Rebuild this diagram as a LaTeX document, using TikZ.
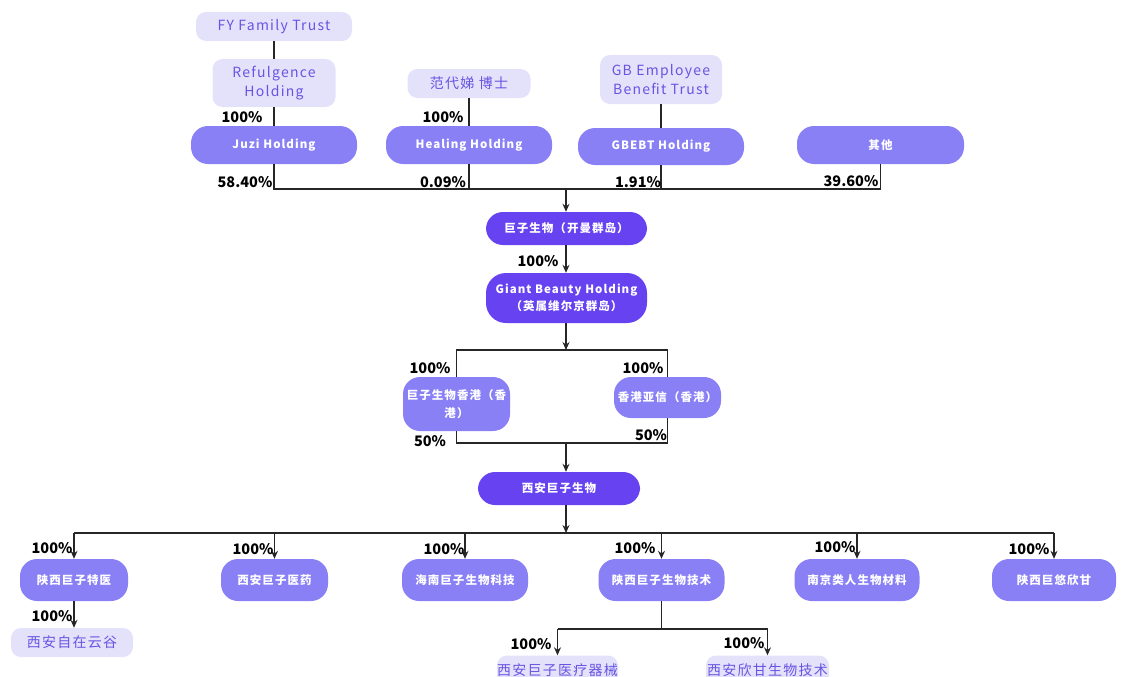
\documentclass[tikz,border=0pt]{standalone}
\usepackage{fontspec}
\setmainfont{Noto Sans CJK SC}
\newfontfamily\spacedfont[LetterSpace=9]{Noto Sans CJK SC}
\usetikzlibrary{arrows.meta}

\definecolor{lightbox}{HTML}{E4E2FB}
\definecolor{lighttext}{HTML}{6655E2}
\definecolor{midbox}{HTML}{8A80F6}
\definecolor{darkbox}{HTML}{6642F0}

\begin{document}
\begin{tikzpicture}
    [
      x=1pt, y=-1pt,
      every node/.style={inner sep=0pt},
      light/.style={fill=lightbox, text=lighttext, rounded corners=10pt, align=center,
        font=\fontsize{14}{19}\spacedfont},
      mid/.style={fill=midbox, text=white, rounded corners=17pt, align=center,
        font=\fontsize{11.5}{17}\spacedfont\bfseries},
      dark/.style={fill=darkbox, text=white, rounded corners=17pt, align=center,
        font=\fontsize{11.5}{17}\spacedfont\bfseries},
      pct/.style={font=\fontsize{14.5}{16}\selectfont\bfseries, text=black},
      link/.style={draw=black!85, line width=1.3pt},
      arr/.style={link, -{Stealth[length=8pt,width=7pt]}},
    ]

    \useasboundingbox (0,0) rectangle (1122,677);

    % top owners
    \node [light, minimum width=156, minimum height=29] (fy) at (274,26.5) {FY Family Trust};
    \node [light, minimum width=123, minimum height=48] (refulgence) at (274,83) {Refulgence\\Holding};
    \node [light, minimum width=123, minimum height=29] (fan) at (469,83.5) {范代娣 博士};
    \node [light, minimum width=122, minimum height=49] (gbtrust) at (661,79.5) {GB Employee\\Benefit Trust};

    \node [mid, minimum width=166, minimum height=38] (juzi) at (274,145) {Juzi Holding};
    \node [mid, minimum width=166, minimum height=38] (healing) at (469,145) {Healing Holding};
    \node [mid, minimum width=166, minimum height=37] (gbebt) at (661,146.5) {GBEBT Holding};
    \node [mid, minimum width=167, minimum height=38] (qita) at (880.5,145) {其他};

    % holding chain
    \node [dark, minimum width=161, minimum height=33] (kaiman) at (566.5,228.5) {巨子生物（开曼群岛）};
    \node [dark, minimum width=161, minimum height=50, rounded corners=20pt] (giant) at (566.5,298)
      {Giant Beauty Holding\\（英属维尔京群岛）};
    \node [mid, minimum width=107, minimum height=54, font=\fontsize{11.5}{18}\spacedfont\bfseries]
      (hkjuzi) at (456.5,404) {巨子生物香港（香\\港）};
    \node [mid, minimum width=107, minimum height=41] (hkyaxin) at (667.5,397.5) {香港亚信（香港）};
    \node [dark, minimum width=162, minimum height=33] (xian) at (559,488.5) {西安巨子生物};

    % subsidiaries
    \node [mid, minimum width=108, minimum height=42] (texi) at (74,580) {陕西巨子特医};
    \node [mid, minimum width=107, minimum height=42] (yiyao) at (274.5,580) {西安巨子医药};
    \node [mid, minimum width=126, minimum height=42] (hainan) at (465,580) {海南巨子生物科技};
    \node [mid, minimum width=126, minimum height=42] (jishu) at (661.5,580) {陕西巨子生物技术};
    \node [mid, minimum width=125, minimum height=42] (nanjing) at (857,580) {南京类人生物材料};
    \node [mid, minimum width=124, minimum height=42] (youxin) at (1054,580) {陕西巨悠欣甘};

    \node [light, minimum width=122, minimum height=29] (yungu) at (72,642.5) {西安自在云谷};
    \node [light, minimum width=121, minimum height=30] (qixie) at (557.5,670.5) {西安巨子医疗器械};
    \node [light, minimum width=123, minimum height=30] (xingan) at (767.5,670.5) {西安欣甘生物技术};

    % junctions
    \coordinate (bartop) at (566,189);
    \coordinate (barhk) at (566,350);
    \coordinate (barmid) at (566,443);
    \coordinate (barsub) at (566,533);
    \coordinate (barjishu) at (661.5,629);

    % connectors
    \draw [link] (fy) -- (refulgence);
    \draw [link] (refulgence) -- (juzi);
    \draw [link] (fan) -- (healing);
    \draw [link] (gbtrust) -- (gbebt);

    \draw [link] (juzi.south) |- (bartop) -| (qita.south);
    \draw [link] (healing.south) -- (healing.south |- bartop);
    \draw [link] (gbebt.south) -- (gbebt.south |- bartop);
    \draw [arr] (bartop) -- (bartop |- kaiman.north);

    \draw [arr] (kaiman.south -| bartop) -- (giant.north -| bartop);
    \draw [arr] (giant.south -| barhk) -- (barhk);
    \draw [link] (hkjuzi.north) |- (barhk) -| (hkyaxin.north);
    \draw [link] (hkjuzi.south) |- (barmid) -| (hkyaxin.south);
    \draw [arr] (barmid) -- (barmid |- xian.north);

    \draw [arr] (barsub |- xian.south) -- (barsub);
    \draw [link] (texi.north |- barsub) -- (youxin.north |- barsub);
    \foreach \sub in {texi,yiyao,hainan,jishu,nanjing,youxin}
      \draw [arr] (\sub.north |- barsub) -- (\sub.north);

    \draw [arr] (texi.south) -- (texi.south |- yungu.north);

    \draw [link] (jishu.south) -- (barjishu);
    \draw [link] (qixie.north |- barjishu) -- (xingan.north |- barjishu);
    \draw [arr] (qixie.north |- barjishu) -- (qixie.north);
    \draw [arr] (xingan.north |- barjishu) -- (xingan.north);

    % shares
    \node [pct] (p-juzi-in) at (242,117) {100\%};
    \node [pct] (p-heal-in) at (443,117) {100\%};
    \node [pct] (p-juzi) at (245,182) {58.40\%};
    \node [pct] (p-heal) at (443,182) {0.09\%};
    \node [pct] (p-gbebt) at (638,182) {1.91\%};
    \node [pct] (p-qita) at (851,181) {39.60\%};
    \node [pct] (p-giant) at (538,261) {100\%};
    \node [pct] (p-hkjuzi) at (430,368) {100\%};
    \node [pct] (p-hkyaxin) at (643,368) {100\%};
    \node [pct] (p-hkjuzi-out) at (430,441) {50\%};
    \node [pct] (p-hkyaxin-out) at (651,435) {50\%};
    \node [pct] (p-texi) at (52,548) {100\%};
    \node [pct] (p-yiyao) at (253,549) {100\%};
    \node [pct] (p-hainan) at (444,549) {100\%};
    \node [pct] (p-jishu) at (635,548) {100\%};
    \node [pct] (p-nanjing) at (835,547) {100\%};
    \node [pct] (p-youxin) at (1029,549) {100\%};
    \node [pct] (p-yungu) at (52,616) {100\%};
    \node [pct] (p-qixie) at (531,644) {100\%};
    \node [pct] (p-xingan) at (744,643) {100\%};
  \end{tikzpicture}
\end{document}
